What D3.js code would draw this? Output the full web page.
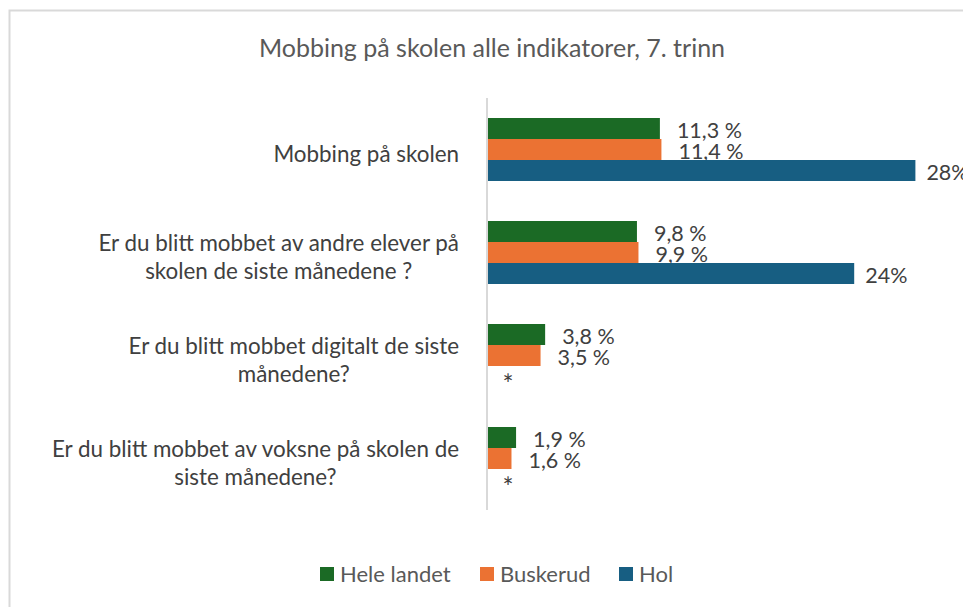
<!DOCTYPE html>
<html>
<head>
<meta charset="utf-8">
<script src="https://cdn.jsdelivr.net/npm/d3@7"></script>
<style>
  html, body { margin: 0; padding: 0; background: #fff; }
  svg { display: block; font-family: Lato, "Open Sans", sans-serif; }
</style>
</head>
<body>
<svg id="chart" width="963" height="607"></svg>
<script>
// Mobbing på skolen — grouped horizontal bars

const TITLE = 'Mobbing på skolen alle indikatorer, 7. trinn';

const categories = [
  ['Mobbing på skolen'],
  ['Er du blitt mobbet av andre elever på', 'skolen de siste månedene ?'],
  ['Er du blitt mobbet digitalt de siste', 'månedene?'],
  ['Er du blitt mobbet av voksne på skolen de', 'siste månedene?'],
];

const seriesNames = ['Hele landet', 'Buskerud', 'Hol'];
const seriesColors = ['#1b6a25', '#eb7233', '#175e82'];

const heleLandet = [11.3, 9.8, 3.8, 1.9];
const buskerud = [11.4, 9.9, 3.5, 1.6];
const hol = [28, 24, null, null]; // * = ikke oppgitt

const seriesValues = [heleLandet, buskerud, hol];

// ============================================================
// Layout
// ============================================================

const svg = d3.select('#chart');
const W = 963, H = 607;
const plot = { left: 487, right: 946, top: 98, bottom: 510 };

// outer frame (cut off at right/bottom like the source screenshot)
svg.append('rect')
  .attr('x', 9.5).attr('y', 10.5)
  .attr('width', W + 20).attr('height', H + 20)
  .attr('fill', '#fff')
  .attr('stroke', '#d9d9d9').attr('stroke-width', 2);

svg.append('text')
  .attr('x', 492).attr('y', 57)
  .attr('text-anchor', 'middle')
  .attr('fill', '#595959')
  .attr('font-size', 25)
  .text(TITLE);

const x = d3.scaleLinear().domain([0, 30]).range([plot.left, plot.right]);
const y0 = d3.scaleBand().domain(d3.range(categories.length)).range([plot.top, plot.bottom]);
const y1 = d3.scaleBand().domain(d3.range(seriesNames.length)).range([-31.5, 31.5]);

// category labels: block right-aligned, lines centred within the block
const lineH = 28;
categories.forEach((lines, i) => {
  const cy = y0(i) + y0.bandwidth() / 2 + 5;
  const g = svg.append('g');
  const texts = lines.map((ln, j) => g.append('text')
    .attr('y', cy + (j - (lines.length - 1) / 2) * lineH)
    .attr('dy', '0.35em')
    .attr('text-anchor', 'middle')
    .attr('fill', '#404040')
    .attr('font-size', 22.4)
    .text(ln));
  const maxW = d3.max(texts, t => t.node().getComputedTextLength());
  texts.forEach(t => t.attr('x', 459 - maxW / 2));
});

// bars
const fmtDec = v => d3.format('.1f')(v).replace('.', ',') + ' %';
const fmtInt = v => d3.format('d')(v) + '%';

seriesValues.forEach((vals, s) => {
  const rows = vals.map((v, i) => ({ v, i }));
  svg.append('g').selectAll('rect')
    .data(rows.filter(d => d.v != null))
    .join('rect')
    .attr('x', x(0))
    .attr('y', d => y0(d.i) + y0.bandwidth() / 2 + y1(s))
    .attr('width', d => x(d.v) - x(0))
    .attr('height', y1.bandwidth())
    .attr('fill', seriesColors[s]);

  svg.append('g').selectAll('text')
    .data(rows)
    .join('text')
    .attr('x', d => d.v == null ? x(0) + 21 : x(d.v) + (s === 2 ? 11 : 17))
    .attr('y', d => y0(d.i) + y0.bandwidth() / 2 + y1(s) + y1.bandwidth() / 2 + (d.v == null ? 8 : 2))
    .attr('dy', '0.35em')
    .attr('text-anchor', d => d.v == null ? 'middle' : 'start')
    .attr('fill', '#404040')
    .attr('font-size', d => d.v == null ? 26 : 21.5)
    .text(d => d.v == null ? '*' : (s === 2 ? fmtInt(d.v) : fmtDec(d.v)));
});

// vertical category axis line
svg.append('line')
  .attr('x1', x(0)).attr('x2', x(0))
  .attr('y1', plot.top).attr('y2', plot.bottom)
  .attr('stroke', '#d9d9d9').attr('stroke-width', 2);

// legend
const legendX = [320, 480, 619];
const legend = svg.append('g');
seriesNames.forEach((name, s) => {
  legend.append('rect')
    .attr('x', legendX[s]).attr('y', 567)
    .attr('width', 14).attr('height', 14)
    .attr('fill', seriesColors[s]);
  legend.append('text')
    .attr('x', legendX[s] + 20).attr('y', 574)
    .attr('dy', '0.35em')
    .attr('fill', '#595959')
    .attr('font-size', 22)
    .text(name);
});
</script>
</body>
</html>
